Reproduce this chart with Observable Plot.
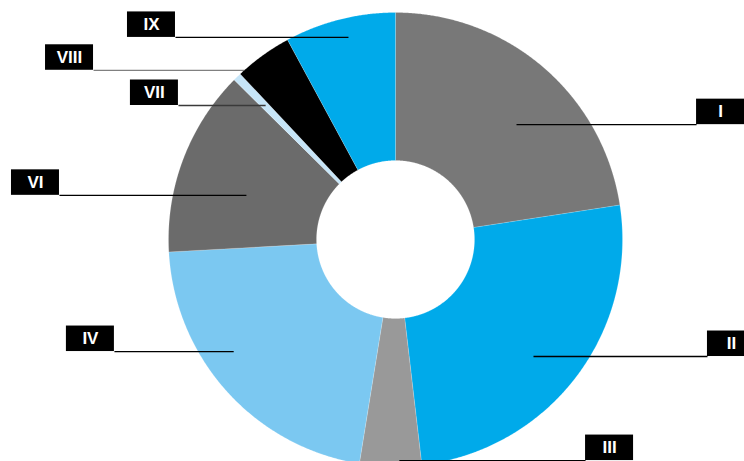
<!DOCTYPE html>
<html>
<head>
<meta charset="utf-8">
<script src="https://cdn.jsdelivr.net/npm/d3@7"></script>
<script src="https://cdn.jsdelivr.net/npm/@observablehq/plot@0.6"></script>
<style>
  html, body { margin: 0; padding: 0; background: #ffffff; }
  #chart { width: 744px; height: 461px; overflow: hidden; }
</style>
</head>
<body>
<div id="chart"></div>
<script>
// ---- data ----
const categories = ["I", "II", "III", "IV", "VI", "VII", "VIII", "IX"];
const shares = [22.6, 25.6, 4.4, 21.6, 13.3, 0.6, 4.1, 7.9];
const sliceColors = ["#787878", "#00aaea", "#999999", "#7bc8f1", "#6b6b6b", "#c6e5f8", "#000000", "#00aaea"];
// leader line anchor inside each slice: angle (deg, clockwise from 12 o'clock) and radius (fraction of outer radius)
const leaderAngle = [46.5, 130.3, 179, 235.3, 286.5, 315.9, 318.2, 346.9];
const leaderRadius = [0.735, 0.797, 0.974, 0.867, 0.685, 0.822, 1.0, 0.914];
// label box centre, horizontal, in outer-radius units from the centre
const labelX = [1.432, 1.480, 0.943, -1.344, -1.586, -1.062, -1.436, -1.075];
const leaderColors = ["#000000", "#000000", "#000000", "#000000", "#000000", "#3a3a3a", "#808080", "#000000"];

// ---- geometry ----
const W = 744, H = 461, R = 227, cx = 395, cy = 239;
const innerRatio = 79 / 227;
const boxHalfW = 24 / R, boxH = 25.5 / R;

const total = d3.sum(shares);
const polys = [];
let acc = 0;
categories.forEach((c, i) => {
  const a0 = acc / total * 2 * Math.PI;
  acc += shares[i];
  const a1 = acc / total * 2 * Math.PI;
  const n = Math.max(2, Math.ceil((a1 - a0) / 0.005));
  const pts = [];
  for (let k = 0; k <= n; k++) {
    const a = a0 + (a1 - a0) * k / n;
    pts.push({x: Math.sin(a), y: -Math.cos(a)});
  }
  for (let k = n; k >= 0; k--) {
    const a = a0 + (a1 - a0) * k / n;
    pts.push({x: innerRatio * Math.sin(a), y: -innerRatio * Math.cos(a)});
  }
  pts.push(pts[0]);
  pts.forEach(p => polys.push({key: c, color: sliceColors[i], x: p.x, y: p.y}));
});

const labels = categories.map((c, i) => {
  const a = leaderAngle[i] * Math.PI / 180;
  const px = leaderRadius[i] * Math.sin(a);
  const py = -leaderRadius[i] * Math.cos(a);
  const side = Math.sign(labelX[i]);
  return {
    label: c, px, py, lx: labelX[i],
    edge: labelX[i] - side * boxHalfW,
    lineColor: leaderColors[i]
  };
});

const chart = Plot.plot({
  width: W,
  height: H,
  margin: 0,
  style: {background: "#ffffff"},
  x: {axis: null, domain: [-cx / R, (W - cx) / R], range: [0, W]},
  y: {axis: null, domain: [-cy / R, (H - cy) / R], range: [0, H]},
  color: {type: "identity"},
  marks: [
    Plot.line(polys, {
      x: "x", y: "y", z: "key", fill: "color",
      stroke: "#ffffff", strokeWidth: 0.5, strokeOpacity: 0.35, curve: "linear"
    }),
    Plot.link(labels, {
      x1: "px", y1: "py", x2: "edge", y2: "py",
      stroke: "lineColor", strokeWidth: 1.3
    }),
    Plot.rect(labels, {
      x1: d => d.lx - boxHalfW, x2: d => d.lx + boxHalfW,
      y1: d => d.py - boxH, y2: "py",
      fill: "#000000"
    }),
    Plot.text(labels, {
      x: "lx", y: d => d.py - boxH / 2, text: "label",
      fill: "#ffffff", fontSize: 17, fontWeight: "bold",
      fontFamily: "'Liberation Sans', Arial, sans-serif"
    })
  ]
});
document.getElementById("chart").appendChild(chart);
</script>
</body>
</html>
